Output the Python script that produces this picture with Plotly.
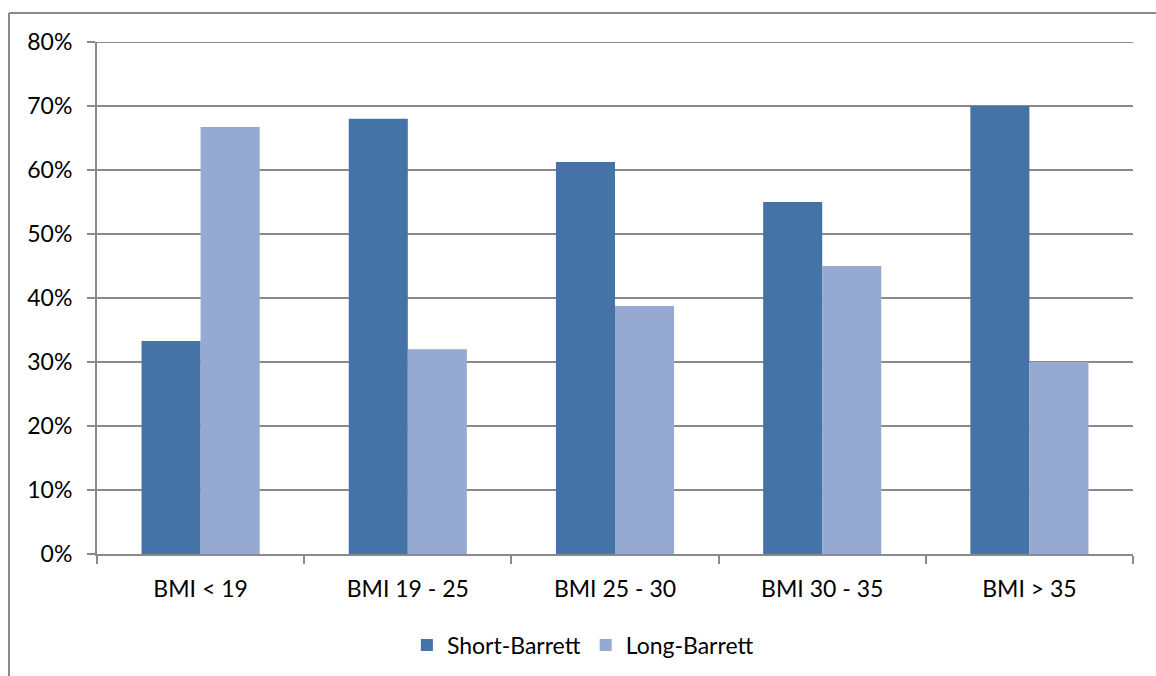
import plotly.graph_objects as go

categories = ["BMI < 19", "BMI 19 - 25", "BMI 25 - 30", "BMI 30 - 35", "BMI > 35"]
short_barrett = [0.333, 0.68, 0.6125, 0.55, 0.70]
long_barrett = [0.667, 0.32, 0.3875, 0.45, 0.30]
y_ticks = [0, 0.1, 0.2, 0.3, 0.4, 0.5, 0.6, 0.7, 0.8]

FONT = "Lato, Calibri, 'Noto Sans', sans-serif"
GRID = "#8a8a8a"

fig = go.Figure()
fig.add_trace(go.Bar(name="Short-Barrett", x=categories, y=short_barrett,
                     marker=dict(color="#4572A7", line=dict(width=0))))
fig.add_trace(go.Bar(name="Long-Barrett", x=categories, y=long_barrett,
                     marker=dict(color="#95A9D1", line=dict(width=0))))

fig.update_layout(
    width=1156, height=676,
    margin=dict(l=97, r=23, t=42, b=122, autoexpand=False),
    paper_bgcolor="white", plot_bgcolor="white",
    barmode="group", bargap=0.43, bargroupgap=0,
    font=dict(family=FONT, size=23, color="#000000"),
    showlegend=True,
    legend=dict(orientation="h", x=0.469, y=1 - 645 / 676, yref="container",
                xanchor="center", yanchor="middle",
                font=dict(size=23), itemwidth=30, traceorder="normal"),
    xaxis=dict(type="category", showline=True, linecolor=GRID, linewidth=2,
               ticks="outside", ticklen=8, tickcolor=GRID, tickwidth=2,
               tickson="boundaries", showgrid=False, ticklabelstandoff=13,
               automargin=False),
    yaxis=dict(range=[0, 0.8], tickvals=y_ticks, tickformat=".0%",
               showline=True, linecolor=GRID, linewidth=2,
               ticks="outside", ticklen=8, tickcolor=GRID, tickwidth=2,
               showgrid=True, gridcolor=GRID, gridwidth=2, zeroline=False,
               ticklabelstandoff=10, automargin=False),
)

# top gridline at the upper end of the value axis
fig.add_shape(type="line", xref="paper", yref="y", x0=0, x1=1, y0=0.8, y1=0.8,
              line=dict(color=GRID, width=2), layer="below")

# outer chart frame (left and top edges visible)
frame_x = (9 - 97) / 1036
frame_y = 1 + (42 - 13) / 512
fig.add_shape(type="line", xref="paper", yref="paper",
              x0=frame_x, x1=1.2, y0=frame_y, y1=frame_y,
              line=dict(color=GRID, width=2))
fig.add_shape(type="line", xref="paper", yref="paper",
              x0=frame_x, x1=frame_x, y0=frame_y, y1=-0.3,
              line=dict(color=GRID, width=2))

fig.write_html("out.html")
